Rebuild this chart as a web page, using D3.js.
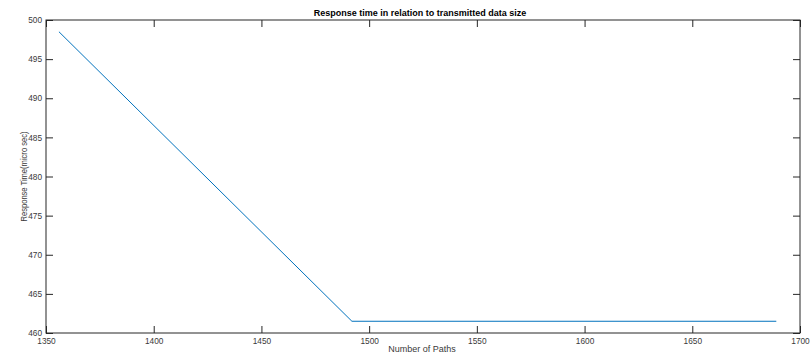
<!DOCTYPE html>
<html>
<head>
<meta charset="utf-8">
<script src="https://cdn.jsdelivr.net/npm/d3@7"></script>
<style>
  body { margin: 0; background: #fff; }
  svg { display: block; font-family: "Liberation Sans", Arial, sans-serif; }
</style>
</head>
<body>
<svg id="chart"></svg>
<script>
const paths = [1356, 1492, 1689]
const responseTimes = [498.5, 461.5, 461.5]
const xTicks = [1350, 1400, 1450, 1500, 1550, 1600, 1650, 1700]
const yTicks = [460, 465, 470, 475, 480, 485, 490, 495, 500]

const fullWidth = 810
const fullHeight = 358
const margin = { top: 20, right: 10, bottom: 25, left: 46 }
const width = 800 - margin.left
const height = 333 - margin.top
const ink = '#262626'

const svg = d3.select('#chart')
    .attr('width', fullWidth)
    .attr('height', fullHeight)

const main = svg.append('g')
    .attr('transform', `translate(${margin.left}, ${margin.top})`)

const xScale = d3.scaleLinear().domain([1350, 1700]).range([0, width])
const yScale = d3.scaleLinear().domain([460, 500]).range([height, 0])

const styleAxis = g => {
    g.select('.domain').remove()
    g.selectAll('line').attr('stroke', ink)
    g.selectAll('text').attr('fill', '#3a3a3a').attr('font-size', '8.3px')
}

// bottom + left axes with inward ticks
main.append('g')
    .attr('transform', `translate(0, ${height})`)
    .call(d3.axisBottom(xScale).tickValues(xTicks).tickSize(-7).tickPadding(5).tickFormat(d3.format('d')))
    .call(styleAxis)

main.append('g')
    .call(d3.axisLeft(yScale).tickValues(yTicks).tickSize(-7).tickPadding(4).tickFormat(d3.format('d')))
    .call(styleAxis)

// mirrored ticks on top and right
main.append('g')
    .call(d3.axisTop(xScale).tickValues(xTicks).tickSize(-7).tickFormat(''))
    .call(styleAxis)

main.append('g')
    .attr('transform', `translate(${width}, 0)`)
    .call(d3.axisRight(yScale).tickValues(yTicks).tickSize(-7).tickFormat(''))
    .call(styleAxis)

// axes box
main.append('rect')
    .attr('width', width)
    .attr('height', height)
    .attr('fill', 'none')
    .attr('stroke', ink)
    .attr('stroke-width', 1)

// data line
main.append('path')
    .datum(paths.map((p, i) => [p, responseTimes[i]]))
    .attr('fill', 'none')
    .attr('stroke', '#0072BD')
    .attr('stroke-width', 1)
    .attr('d', d3.line().x(d => xScale(d[0])).y(d => yScale(d[1])))

// labels
svg.append('text')
    .attr('x', 420)
    .attr('y', 16)
    .attr('text-anchor', 'middle')
    .attr('font-size', '9px')
    .attr('font-weight', 'bold')
    .attr('fill', '#000')
    .text('Response time in relation to transmitted data size')

svg.append('text')
    .attr('x', 422)
    .attr('y', 352)
    .attr('text-anchor', 'middle')
    .attr('font-size', '9px')
    .attr('fill', '#3a3a3a')
    .text('Number of Paths')

svg.append('text')
    .attr('transform', `translate(26.5, ${margin.top + height / 2}) rotate(-90)`)
    .attr('text-anchor', 'middle')
    .attr('font-size', '9px')
    .attr('textLength', 90)
    .attr('lengthAdjust', 'spacingAndGlyphs')
    .attr('fill', '#3a3a3a')
    .text('Response Time(micro sec)')
</script>
</body>
</html>
